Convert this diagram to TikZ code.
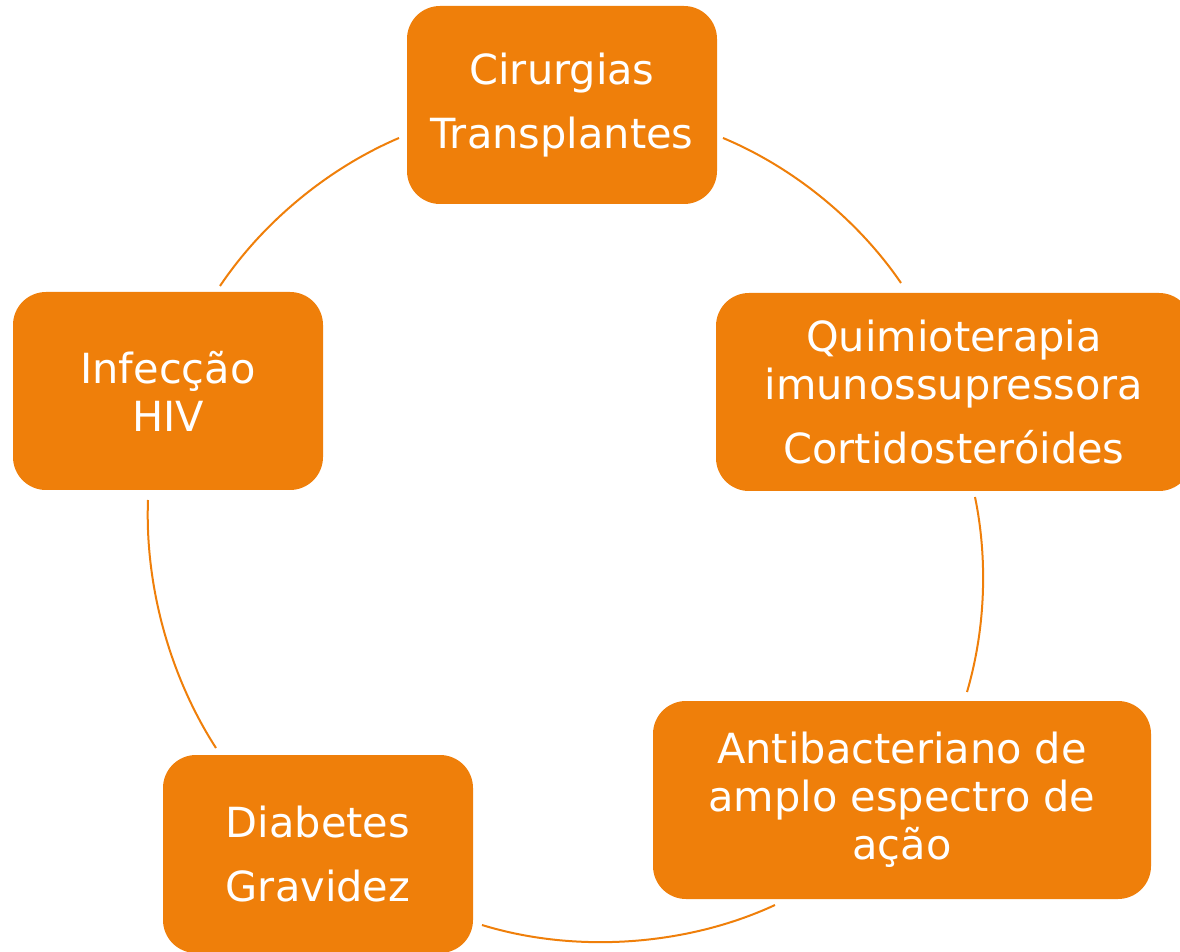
\documentclass[tikz,border=0pt]{standalone}
\usepackage{fontspec}
\setmainfont{DejaVu Sans}
\definecolor{orng}{RGB}{239,127,10}
\begin{document}
\begin{tikzpicture}[x=1pt,y=1pt,
  box/.style={fill=orng, rounded corners=33pt, minimum height=198pt,
    inner sep=0pt, text=white, align=center,
    font=\fontsize{41.5}{48}\selectfont},
  link/.style={draw=orng, line width=2pt, looseness=0.85}]
\clip (0,0) rectangle (1180,951);
\node[box, minimum width=310pt] (cir) at (562,846) {Cirurgias\\[16pt]Transplantes};
\node[box, minimum width=476pt] (qui) at (954,559) {Quimioterapia\\imunossupressora\\[16pt]Cortidosteróides};
\node[box, minimum width=498pt] (ant) at (902,151) {Antibacteriano de\\amplo espectro de\\ação};
\node[box, minimum width=310pt] (dia) at (318,97) {Diabetes\\[16pt]Gravidez};
\node[box, minimum width=310pt] (hiv) at (168,560) {Infecção\\HIV};
\coordinate (a1s) at (723,813);
\coordinate (a1e) at (901,668);
\coordinate (a2s) at (975,454);
\coordinate (a2e) at (967,259);
\coordinate (a3s) at (775,46);
\coordinate (a3e) at (482,26);
\coordinate (a4s) at (216,203);
\coordinate (a4e) at (148,451);
\coordinate (a5s) at (220,665);
\coordinate (a5e) at (399,813);
\draw[link] (a1s) to[bend left=16.5] (a1e);
\draw[link] (a2s) to[bend left=14] (a2e);
\draw[link] (a3s) to[bend left=21] (a3e);
\draw[link] (a4s) to[bend left=17.5] (a4e);
\draw[link] (a5s) to[bend left=16.5] (a5e);
\end{tikzpicture}
\end{document}
